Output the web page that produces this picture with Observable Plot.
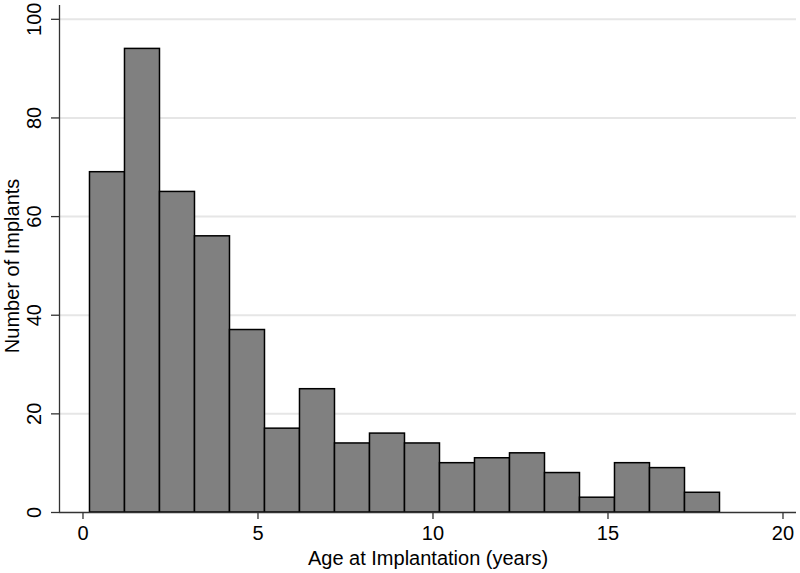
<!DOCTYPE html>
<html>
<head>
<meta charset="utf-8">
<script src="https://cdn.jsdelivr.net/npm/d3@7"></script>
<script src="https://cdn.jsdelivr.net/npm/@observablehq/plot@0.6"></script>
<style>
  html, body { margin: 0; padding: 0; background: #fff; }
  #chart svg { display: block; }
</style>
</head>
<body>
<div id="chart"></div>
<script>
// Histogram bins (years) and counts
const binStarts = [0.2, 1.2, 2.2, 3.2, 4.2, 5.2, 6.2, 7.2, 8.2, 9.2, 10.2, 11.2, 12.2, 13.2, 14.2, 15.2, 16.2, 17.2];
const binEnds   = [1.2, 2.2, 3.2, 4.2, 5.2, 6.2, 7.2, 8.2, 9.2, 10.2, 11.2, 12.2, 13.2, 14.2, 15.2, 16.2, 17.2, 18.2];
const counts    = [69, 94, 65, 56, 37, 17, 25, 14, 16, 14, 10, 11, 12, 8, 3, 10, 9, 4];
const xTicks = [0, 5, 10, 15, 20];
const yTicks = [0, 20, 40, 60, 80, 100];
const gridTicks = [20, 40, 60, 80, 100];
const xLabel = "Age at Implantation (years)";
const yLabel = "Number of Implants";

const bins = counts.map((c, i) => ({x1: binStarts[i], x2: binEnds[i], count: c}));

const font = "'Liberation Sans', Arial, Helvetica, sans-serif";
const axisColor = "#333";

const chart = Plot.plot({
  width: 800,
  height: 573,
  marginLeft: 59,
  marginRight: 4,
  marginTop: 5,
  marginBottom: 61,
  style: {fontFamily: font, fontSize: "20px", color: "#000", background: "#fff"},
  x: {domain: [-0.671, 20.386], label: null},
  y: {domain: [0, 102.8], label: null},
  marks: [
    Plot.gridY(gridTicks, {stroke: "#e6e6e6", strokeOpacity: 1, strokeWidth: 2}),
    Plot.rectY(bins, {x1: "x1", x2: "x2", y: "count", fill: "#808080", stroke: "#000", strokeWidth: 1.5}),
    Plot.ruleX([-0.671], {stroke: axisColor, strokeWidth: 1.3}),
    Plot.ruleY([0], {stroke: axisColor, strokeWidth: 1.3}),
    Plot.axisX(xTicks, {tickSize: 7, tickPadding: 6, stroke: axisColor, strokeWidth: 1.3, fontSize: 20, fill: "#000", label: null}),
    Plot.axisY(yTicks, {tickSize: 8, tickRotate: -90, tickPadding: 11, stroke: axisColor, strokeWidth: 1.3, fontSize: 20, fill: "#000", label: null}),
    Plot.text([xLabel], {frameAnchor: "bottom", dy: 38, lineAnchor: "top", text: d => d, fontSize: 20, fill: "#000"}),
    Plot.text([yLabel], {frameAnchor: "left", y: 50, dx: -41, rotate: -90, lineAnchor: "bottom", textAnchor: "middle", text: d => d, fontSize: 20, fill: "#000"})
  ]
});

document.getElementById("chart").appendChild(chart);
</script>
</body>
</html>
